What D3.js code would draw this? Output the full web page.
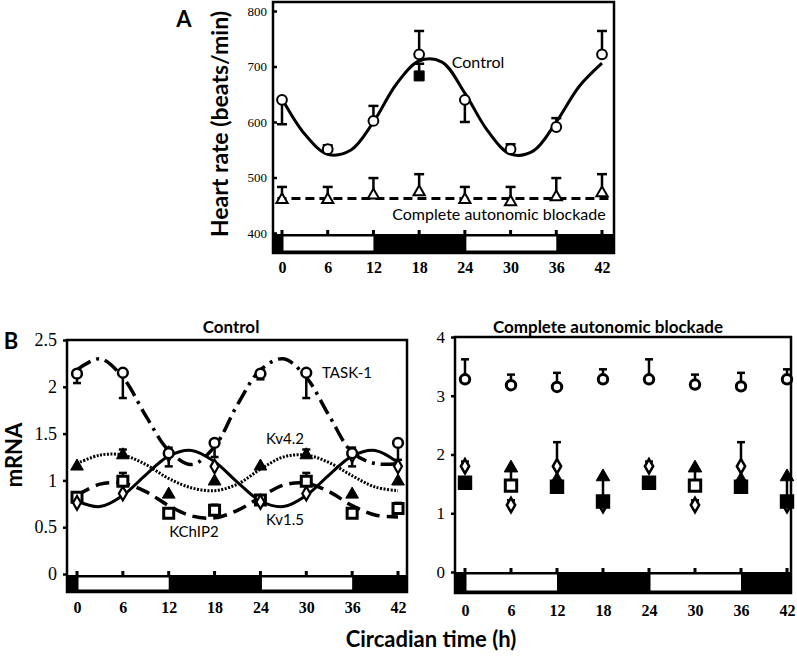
<!DOCTYPE html>
<html>
<head>
<meta charset="utf-8">
<script src="https://cdn.jsdelivr.net/npm/d3@7/dist/d3.min.js"></script>
<style>
  body {margin: 0; background: #fff;}
  .lbl {font-family: Lato, "Open Sans", sans-serif; fill: #000;}
  .ytick text {font-family: "Liberation Serif", serif;}
  .xtick text {font-family: "Liberation Serif", serif; font-weight: bold;}
</style>
</head>
<body>
<svg width="797" height="656"></svg>
<script>
// ---- données ----
var hours = [0, 6, 12, 18, 24, 30, 36, 42];
var fitHours = [0, 3, 6, 9, 12, 15, 18, 21, 24, 27, 30, 33, 36, 39, 42];
var lightPeriods = [[0, 12], [24, 36]];

// A : fréquence cardiaque
var hrTicks = [400, 500, 600, 700, 800];
var hrControl = [640, 551, 602, 722, 640, 551, 591, 722];
var hrControlErr = [596, 558, 629, 764, 600, 560, 607, 764];
var hrControlFit = [642, 578, 542, 549, 600, 668, 710, 708, 652, 584, 542, 548, 600, 664, 706];
var hrSquareHours = [18];
var hrSquare = [683];
var hrSquareErr = [705];
var hrBlock = [460, 460, 468, 474, 460, 456, 465, 472];
var hrBlockErr = [483, 483, 499, 506, 483, 483, 499, 506];
var hrBlockFitHours = [-0.6, 43.2];
var hrBlockFit = [462, 462];

// B : ARNm, contrôle
var mrnaTicks = [0, 0.5, 1, 1.5, 2, 2.5];
var task1 = [2.14, 2.15, 1.29, 1.40, 2.14, 2.15, 1.29, 1.40];
var task1Err = [2.04, 1.88, 1.15, 1.25, 2.08, 1.88, 1.15, 1.22];
var task1Fit = [2.18, 2.30, 2.10, 1.69, 1.32, 1.17, 1.36, 1.81, 2.18, 2.30, 2.10, 1.69, 1.30, 1.18, 1.18];
var kv42 = [1.15, 1.27, 0.85, 0.99, 1.15, 1.27, 0.85, 0.99];
var kv42Err = [1.15, 1.33, 0.85, 0.99, 1.15, 1.33, 0.85, 0.99];
var kv42Fit = [1.18, 1.27, 1.27, 1.17, 1.02, 0.92, 0.89, 0.96, 1.12, 1.25, 1.27, 1.19, 1.05, 0.93, 0.89];
var kv15 = [0.76, 0.86, 1.28, 1.15, 0.77, 0.86, 1.27, 1.15];
var kv15Err = [0.76, 0.86, 1.35, 1.15, 0.77, 0.86, 1.35, 1.15];
var kv15Fit = [0.78, 0.72, 0.84, 1.06, 1.26, 1.32, 1.20, 0.98, 0.78, 0.72, 0.84, 1.06, 1.26, 1.32, 1.19];
var kchip2 = [0.82, 0.99, 0.65, 0.68, 0.79, 0.99, 0.65, 0.70];
var kchip2Err = [0.82, 1.08, 0.65, 0.74, 0.79, 1.08, 0.65, 0.76];
var kchip2Fit = [0.84, 0.96, 0.97, 0.88, 0.73, 0.62, 0.60, 0.68, 0.82, 0.95, 0.97, 0.88, 0.73, 0.63, 0.61];

// B : ARNm, blocage autonome complet
var blockTicks = [0, 1, 2, 3, 4];
var bTask1 = [3.28, 3.18, 3.15, 3.28, 3.28, 3.19, 3.16, 3.28];
var bTask1Err = [3.62, 3.36, 3.39, 3.45, 3.62, 3.36, 3.39, 3.45];
var bKv15 = [1.80, 1.14, 1.80, 1.14, 1.80, 1.14, 1.80, 1.14];
var bKv15Err = [1.88, 1.22, 2.21, 1.14, 1.88, 1.22, 2.21, 1.14];
var bKv42 = [1.50, 1.77, 1.57, 1.62, 1.50, 1.77, 1.57, 1.62];
var bKv42Err = [1.50, 1.47, 1.45, 1.20, 1.50, 1.47, 1.45, 1.20];
var bKchip2 = [1.52, 1.47, 1.45, 1.20, 1.52, 1.47, 1.45, 1.20];

var svg = d3.select("svg");

// cadre + barre jour/nuit + axes
function panel(cfg) {
	var x = d3.scaleLinear().domain([0, 42]).range(cfg.xr);
	var y = d3.scaleLinear().domain(cfg.yd).range(cfg.yr);
	var g = svg.append("g");

	// barre jour / nuit
	g.append("rect")
		.attr("x", cfg.left).attr("y", cfg.barTop)
		.attr("width", cfg.right - cfg.left).attr("height", cfg.bottom - cfg.barTop)
		.attr("fill", "#000");
	g.selectAll("rect.light").data(lightPeriods).enter().append("rect")
		.attr("x", function (d) { return x(d[0]) + 1.5; })
		.attr("width", function (d) { return x(d[1]) - x(d[0]) - 1.5; })
		.attr("y", cfg.barTop + 2.5)
		.attr("height", cfg.bottom - cfg.barTop - 5)
		.attr("fill", "#fff");
	// petits traits au-dessus de la barre
	g.selectAll("line.tk").data(hours).enter().append("line")
		.attr("x1", function (d) { return x(d); }).attr("x2", function (d) { return x(d); })
		.attr("y1", cfg.barTop - 4).attr("y2", cfg.barTop)
		.attr("stroke", "#000").attr("stroke-width", 3);

	// cadre
	g.append("rect")
		.attr("x", cfg.left).attr("y", cfg.top)
		.attr("width", cfg.right - cfg.left).attr("height", cfg.bottom - cfg.top)
		.attr("fill", "none").attr("stroke", "#000").attr("stroke-width", 2.5);

	// axe des x
	var ax = g.append("g").attr("class", "xtick")
		.attr("transform", "translate(0," + cfg.bottom + ")")
		.call(d3.axisBottom(x).tickValues(hours).tickSize(0).tickPadding(cfg.xPad));
	ax.select(".domain").remove();
	ax.selectAll("text").attr("font-size", 16).attr("fill", "#000");

	// axe des y
	var ay = g.append("g").attr("class", "ytick")
		.attr("transform", "translate(" + cfg.left + ",0)")
		.call(d3.axisLeft(y).tickValues(cfg.ticks).tickSize(cfg.tickSize).tickPadding(cfg.yPad)
			.tickFormat(d3.format("")));
	ay.select(".domain").remove();
	ay.selectAll("line").attr("stroke-width", 2.5);
	ay.selectAll("text").attr("font-size", cfg.yFont).attr("fill", "#000");

	return {x: x, y: y, g: g};
}

function curve(p, hrs, vals, width, dash) {
	var line = d3.line()
		.x(function (d, i) { return p.x(hrs[i]); })
		.y(function (d) { return p.y(d); })
		.curve(d3.curveCatmullRom.alpha(0.5));
	p.g.append("path").datum(vals)
		.attr("d", line)
		.attr("fill", "none").attr("stroke", "#000")
		.attr("stroke-width", width)
		.attr("stroke-dasharray", dash || null);
}

function errBars(p, hrs, vals, ends, cap) {
	var eb = p.g.append("g").attr("stroke", "#000").attr("stroke-width", 2.5);
	vals.forEach(function (v, i) {
		if (ends[i] === v) return;
		var cx = p.x(hrs[i]);
		eb.append("line").attr("x1", cx).attr("x2", cx)
			.attr("y1", p.y(v)).attr("y2", p.y(ends[i]));
		eb.append("line").attr("x1", cx - cap).attr("x2", cx + cap)
			.attr("y1", p.y(ends[i])).attr("y2", p.y(ends[i]));
	});
}

function markers(p, hrs, vals, type, size, fill, sw) {
	var sym = d3.symbol().type(type).size(size);
	p.g.selectAll(null).data(vals).enter().append("path")
		.attr("d", sym)
		.attr("transform", function (d, i) { return "translate(" + p.x(hrs[i]) + "," + p.y(d) + ")"; })
		.attr("fill", fill)
		.attr("stroke", "#000").attr("stroke-width", sw);
}

function label(txt, x, y, size, weight, anchor, rot) {
	var t = svg.append("text").attr("class", "lbl")
		.attr("font-size", size).attr("font-weight", weight || "normal")
		.attr("text-anchor", anchor || "middle")
		.text(txt);
	if (rot) t.attr("transform", "translate(" + x + "," + y + ") rotate(-90)");
	else t.attr("x", x).attr("y", y);
	return t;
}

// ---------- A ----------
var pA = panel({left: 273, right: 614, top: 2, bottom: 253, barTop: 234,
	xr: [282, 602], yd: [400, 800], yr: [233, 11], ticks: hrTicks,
	tickSize: -4, yPad: 6, yFont: 13, xPad: 9});
curve(pA, fitHours, hrControlFit, 3);
curve(pA, hrBlockFitHours, hrBlockFit, 3, "9,5");
errBars(pA, hours, hrControl, hrControlErr, 5);
errBars(pA, hrSquareHours, hrSquare, hrSquareErr, 5);
errBars(pA, hours, hrBlock, hrBlockErr, 5);
markers(pA, hours, hrControl, d3.symbolCircle, 75, "#fff", 2);
markers(pA, hrSquareHours, hrSquare, d3.symbolSquare, 100, "#000", 1);
markers(pA, hours, hrBlock, d3.symbolTriangle, 55, "#fff", 2);

label("A", 184, 27, 22, "bold");
label("Heart rate (beats/min)", 228, 124, 23, "bold", "middle", true);
label("Control", 478, 68, 16);
label("Complete autonomic blockade", 499, 220, 16);

// ---------- B, contrôle ----------
var pB = panel({left: 67, right: 407, top: 340, bottom: 592, barTop: 575,
	xr: [77, 398], yd: [0, 2.5], yr: [574, 340], ticks: mrnaTicks,
	tickSize: 4, yPad: 6, yFont: 18, xPad: 10});
curve(pB, fitHours, kchip2Fit, 3.5, "14,7");
curve(pB, fitHours, kv15Fit, 3);
curve(pB, fitHours, kv42Fit, 3, "2,1.5");
curve(pB, fitHours, task1Fit, 3.5, "16,6,3,6");
errBars(pB, hours, task1, task1Err, 4);
errBars(pB, hours, kv42, kv42Err, 4);
errBars(pB, hours, kv15, kv15Err, 4);
errBars(pB, hours, kchip2, kchip2Err, 4);
markers(pB, hours, kchip2, d3.symbolSquare, 100, "#fff", 3);
markers(pB, hours, kv42, d3.symbolTriangle, 70, "#000", 1);
markers(pB, hours, kv15, d3.symbolDiamond, 55, "#fff", 2.2);
markers(pB, hours, task1, d3.symbolCircle, 75, "#fff", 2.5);

label("B", 11, 349, 22, "bold");
label("mRNA", 22, 455, 22, "bold", "middle", true);
label("Control", 231, 333, 17, "bold");
label("TASK-1", 347, 378, 15);
label("Kv4.2", 285, 444, 15);
label("Kv1.5", 285, 525, 15);
label("KChIP2", 194, 537, 15);

// ---------- B, blocage ----------
var pC = panel({left: 455, right: 791, top: 337, bottom: 593, barTop: 572,
	xr: [465, 787], yd: [0, 4], yr: [572, 337], ticks: blockTicks,
	tickSize: 4, yPad: 6, yFont: 17, xPad: 12});
errBars(pC, hours, bTask1, bTask1Err, 4);
errBars(pC, hours, bKv15, bKv15Err, 4);
errBars(pC, hours, bKv42, bKv42Err, 4);
markers(pC, hours, bKv15, d3.symbolDiamond, 60, "#fff", 2.5);
markers(pC, hours, bKv42, d3.symbolTriangle, 80, "#000", 1);
markers(pC, hours, bKchip2, d3.symbolSquare, 130,
	function (d, i) { return i % 4 === 1 ? "#fff" : "#000"; }, 3);
markers(pC, hours, bTask1, d3.symbolCircle, 70, "#fff", 3);

label("Complete autonomic blockade", 608, 333, 17, "bold");
label("Circadian time (h)", 431, 647, 22, "bold");
</script>
</body>
</html>
